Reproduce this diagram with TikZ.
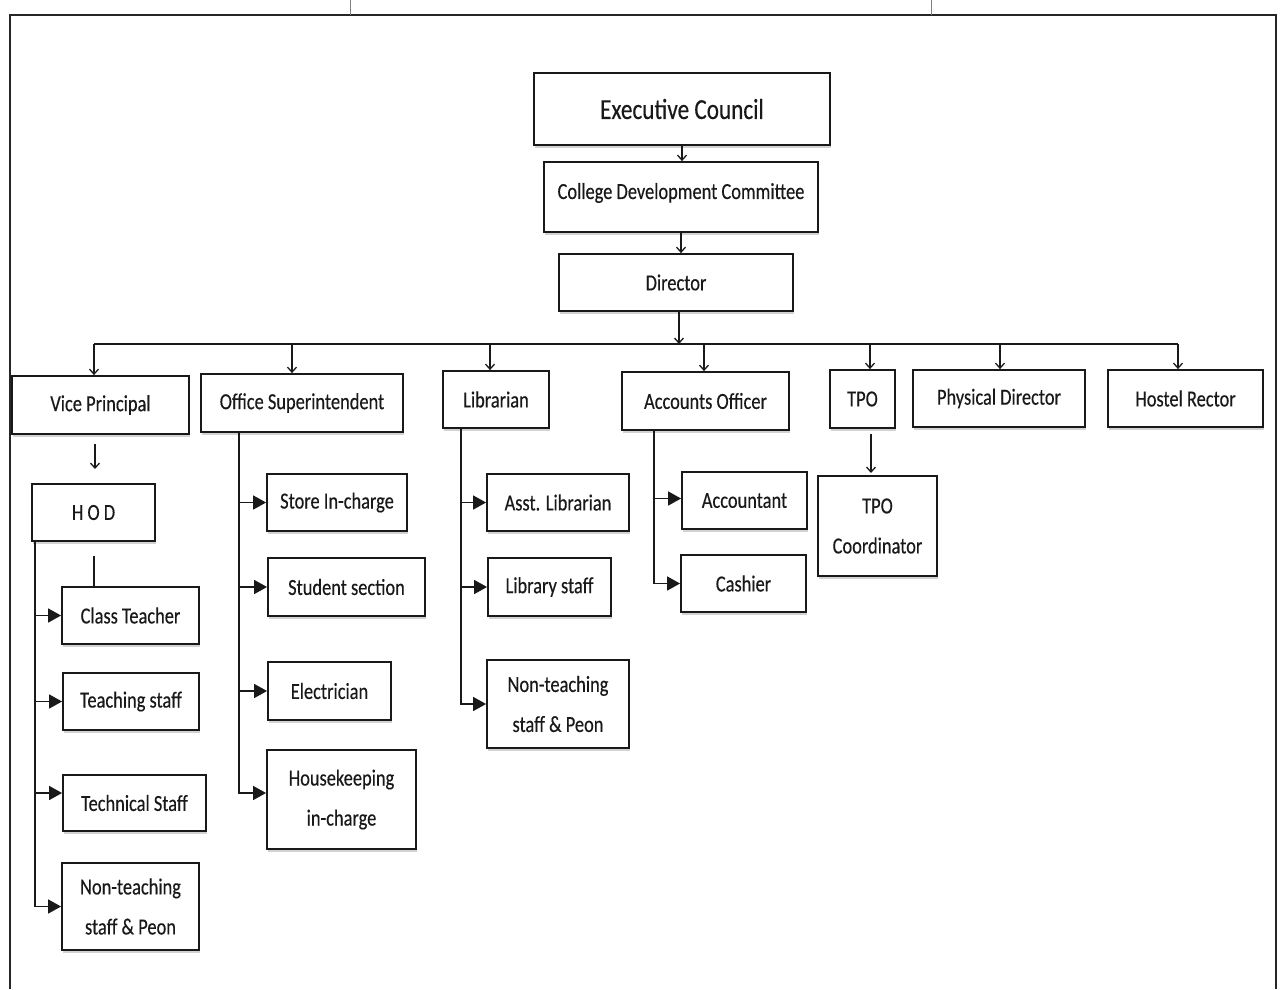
\documentclass[tikz,border=0pt]{standalone}
\usepackage{fontspec}
\setmainfont{Carlito}[FakeStretch=0.8,FakeBold=0.3]
\usetikzlibrary{arrows.meta,shadows}
\begin{document}
\begin{tikzpicture}[x=1pt,y=-1pt,
  box/.style={draw=black!90, line width=1.8pt, fill=white, inner sep=0pt, align=center,
    font=\fontsize{23}{40}\selectfont, text=black!90,
    drop shadow={shadow xshift=1pt, shadow yshift=-3pt, fill=black!35, opacity=0.5}},
  conn/.style={line width=1.5pt, draw=black!90},
  darr/.style={conn, line width=1.3pt, -{Straight Barb[length=5pt,width=9pt]}},
  sarr/.style={conn, -{Triangle[length=13pt,width=14pt]}},
  frameline/.style={line width=1.6pt, draw=black!85},
  tick/.style={line width=0.8pt, draw=black!50},
]
\useasboundingbox (0,0) rectangle (1280,989);
% frame
\coordinate (fTL) at (10,15); \coordinate (fTR) at (1276,15);
\coordinate (fBL) at (10,989); \coordinate (fBR) at (1276,989);
\draw[frameline] (fBL) -- (fTL) -- (fTR) -- (fBR);
\coordinate (t1a) at (350,0); \coordinate (t1b) at (350,15);
\coordinate (t2a) at (931,0); \coordinate (t2b) at (931,15);
\draw[tick] (t1a) -- (t1b);
\draw[tick] (t2a) -- (t2b);

% top chain
\node[box, minimum width=296pt, minimum height=72pt, font=\fontsize{29}{32}\selectfont] (ec) at (682,109) {Executive Council};
\node[box, minimum width=274pt, minimum height=70pt, text depth=12pt] (cdc) at (681,197) {College Development Committee};
\node[box, minimum width=234pt, minimum height=57pt] (dir) at (676,282.5) {Director};

% second row
\node[box, minimum width=177pt, minimum height=58pt] (vp) at (100.5,405) {Vice Principal};
\node[box, minimum width=202pt, minimum height=58pt] (os) at (302,403) {Office Superintendent};
\node[box, minimum width=106pt, minimum height=57pt] (lib) at (496,399.5) {Librarian};
\node[box, minimum width=167pt, minimum height=58pt] (ao) at (705.5,401) {Accounts Officer};
\node[box, minimum width=65pt, minimum height=58pt] (tpo) at (862.5,399) {TPO};
\node[box, minimum width=172pt, minimum height=57pt] (pd) at (999,398.5) {Physical Director};
\node[box, minimum width=155pt, minimum height=57pt] (hr) at (1185.5,398.5) {Hostel Rector};

% Vice principal branch
\node[box, minimum width=123pt, minimum height=57pt] (hod) at (93.5,512.5) {H O D};
\node[box, minimum width=137pt, minimum height=57pt] (ct) at (130.5,615.5) {Class Teacher};
\node[box, minimum width=136pt, minimum height=57pt] (ts) at (131,701.5) {Teaching staff};
\node[box, minimum width=143pt, minimum height=56pt] (tech) at (134.5,803) {Technical Staff};
\node[box, minimum width=137pt, minimum height=87pt] (nt1) at (130.5,906.5) {Non-teaching\\staff \& Peon};

% Office superintendent branch
\node[box, minimum width=140pt, minimum height=57pt] (store) at (337,502.5) {Store In-charge};
\node[box, minimum width=157pt, minimum height=58pt] (stud) at (346.5,587) {Student section};
\node[box, minimum width=123pt, minimum height=58pt] (elec) at (329.5,691) {Electrician};
\node[box, minimum width=149pt, minimum height=99pt] (hk) at (341.5,799.5) {Housekeeping\\in-charge};

% Librarian branch
\node[box, minimum width=142pt, minimum height=57pt] (asst) at (558,502.5) {Asst. Librarian};
\node[box, minimum width=123pt, minimum height=58pt] (lstaff) at (549.5,587) {Library staff};
\node[box, minimum width=142pt, minimum height=88pt] (nt2) at (558,704) {Non-teaching\\staff \& Peon};

% Accounts branch
\node[box, minimum width=125pt, minimum height=57pt] (acct) at (744.5,500.5) {Accountant};
\node[box, minimum width=125pt, minimum height=57pt] (cash) at (743.5,583.5) {Cashier};

% TPO branch
\node[box, minimum width=119pt, minimum height=100pt] (tpoc) at (877.5,526) {TPO\\Coordinator};

% top connectors
\draw[darr] (ec.south) -- (ec.south |- cdc.north);
\draw[darr] (cdc.south) -- (cdc.south |- dir.north);
\coordinate (bus) at (679,344);
\draw[darr] (dir.south -| bus) -- (bus);
\coordinate (b1) at (94,344); \coordinate (b2) at (292,344);
\coordinate (b3) at (490,344); \coordinate (b4) at (704,344);
\coordinate (b5) at (870,344); \coordinate (b6) at (1000,344);
\coordinate (b7) at (1178,344);
\draw[conn, line width=1.3pt] (b1) -- (b7);
\draw[darr] (b1) -- (b1 |- vp.north);
\draw[darr] (b2) -- (b2 |- os.north);
\draw[darr] (b3) -- (b3 |- lib.north);
\draw[darr] (b4) -- (b4 |- ao.north);
\draw[darr] (b5) -- (b5 |- tpo.north);
\draw[darr] (b6) -- (b6 |- pd.north);
\draw[darr] (b7) -- (b7 |- hr.north);

% VP -> HOD
\coordinate (vpa) at (95,444); \coordinate (vpb) at (95,469);
\draw[darr] (vpa) -- (vpb);
% TPO -> coordinator
\coordinate (tpa) at (871,434); \coordinate (tpb) at (871,473);
\draw[darr] (tpa) -- (tpb);

% HOD branch
\coordinate (ht) at (35,541);
\coordinate (techa) at ([yshift=10pt]tech.west);
\draw[sarr] (ht |- ct.west) -- (ct.west);
\draw[sarr] (ht |- ts.west) -- (ts.west);
\draw[sarr] (ht |- techa) -- (techa);
\draw[sarr] (ht) |- (nt1.west);
\coordinate (hstub) at (94,556);
\draw[conn, line width=1.2pt] (hstub) -- (hstub |- ct.north);

% Office superintendent branch
\coordinate (ot) at (239,432);
\coordinate (hka) at ([yshift=6.5pt]hk.west);
\draw[sarr] (ot |- store.west) -- (store.west);
\draw[sarr] (ot |- stud.west) -- (stud.west);
\draw[sarr] (ot |- elec.west) -- (elec.west);
\draw[sarr] (ot) |- (hka);

% Librarian branch
\coordinate (lt) at (461,428);
\draw[sarr] (lt |- asst.west) -- (asst.west);
\draw[sarr] (lt |- lstaff.west) -- (lstaff.west);
\draw[sarr] (lt) |- (nt2.west);

% Accounts branch
\coordinate (at) at (654,430);
\coordinate (acca) at ([yshift=2pt]acct.west);
\draw[sarr] (at |- acca) -- (acca);
\draw[sarr] (at) |- (cash.west);
\end{tikzpicture}
\end{document}
